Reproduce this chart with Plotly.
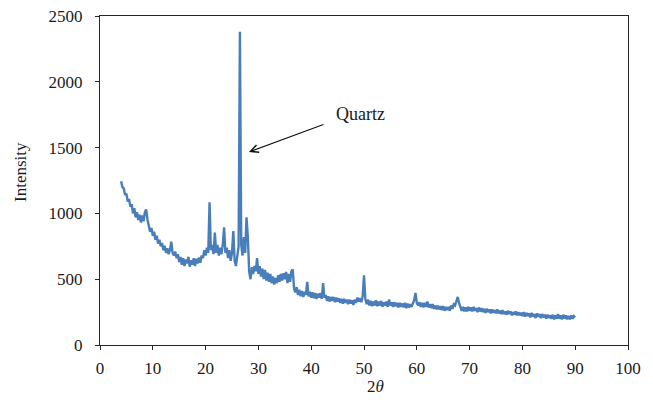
import plotly.graph_objects as go

# Scan grid: 2θ from 4° to 90° in 0.25° steps
theta_start = 4.0
theta_step = 0.25

intensity = [
    # 4.0 - 9.0
    1245, 1200, 1190, 1140, 1150, 1090, 1110, 1050, 1070, 1000, 1040, 970, 1010, 950, 990, 930, 985, 940, 1010, 1030, 950,
    # 9.25 - 14.0
    900, 860, 890, 830, 860, 800, 830, 770, 800, 750, 775, 720, 755, 700, 735, 690, 720, 785, 700, 680,
    # 14.25 - 19.0
    710, 660, 690, 630, 670, 610, 660, 600, 650, 620, 670, 595, 645, 610, 660, 600, 655, 620, 665, 625,
    # 19.25 - 24.0
    680, 660, 720, 680, 740, 700, 1085, 720, 760, 690, 855, 700, 760, 680, 740, 690, 760, 895, 700, 740,
    # 24.25 - 29.0
    660, 720, 640, 700, 865, 640, 600, 700, 750, 2380, 760, 680, 820, 700, 970, 820, 560, 500, 590, 540,
    # 29.25 - 34.0
    600, 560, 660, 540, 600, 520, 580, 500, 570, 490, 550, 480, 540, 470, 520, 460, 510, 470, 530, 480,
    # 34.25 - 39.0
    540, 490, 545, 500, 555, 470, 540, 480, 560, 575, 430, 400, 440, 380, 420, 370, 410, 365, 405, 380,
    # 39.25 - 44.0
    480, 370, 405, 360, 400, 355, 395, 350, 390, 360, 395, 350, 470, 360, 380, 335, 370, 330, 365, 335,
    # 44.25 - 49.0
    365, 325, 360, 330, 355, 320, 350, 315, 350, 320, 345, 310, 345, 315, 340, 305, 345, 320, 360, 330,
    # 49.25 - 54.0
    355, 325, 370, 530, 350, 310, 345, 300, 335, 295, 330, 300, 340, 295, 330, 300, 335, 290, 325, 300,
    # 54.25 - 59.0
    330, 290, 345, 300, 325, 290, 325, 295, 320, 285, 320, 290, 315, 285, 320, 280, 315, 285, 310, 290,
    # 59.25 - 64.0
    315, 340, 395, 320, 300, 325, 290, 320, 285, 320, 290, 330, 285, 310, 280, 310, 275, 300, 270, 300,
    # 64.25 - 69.0
    270, 295, 265, 295, 260, 290, 265, 290, 260, 300, 275, 310, 300, 345, 365, 320, 290, 260, 290, 255,
    # 69.25 - 74.0
    285, 255, 290, 260, 285, 255, 290, 260, 280, 250, 285, 255, 280, 250, 275, 245, 275, 250, 270, 240,
    # 74.25 - 79.0
    270, 245, 265, 240, 270, 240, 260, 235, 265, 235, 255, 230, 260, 235, 255, 225, 250, 230, 255, 225,
    # 79.25 - 84.0
    250, 225, 245, 220, 250, 215, 245, 220, 240, 210, 245, 215, 235, 205, 240, 215, 235, 205, 235, 210,
    # 84.25 - 89.0
    230, 200, 230, 205, 225, 200, 230, 195, 225, 200, 235, 200, 225, 195, 230, 200, 225, 195, 220, 195,
    # 89.25 - 90.0
    225, 200, 220, 210,
]
two_theta = [theta_start + theta_step * i for i in range(len(intensity))]

x_ticks = [0, 10, 20, 30, 40, 50, 60, 70, 80, 90, 100]
y_ticks = [0, 500, 1000, 1500, 2000, 2500]

quartz_label = "Quartz"
quartz_pos = (28.2, 1467)

FONT = "Liberation Serif"
AXIS_COLOR = "#262626"
TEXT_COLOR = "#1a1a1a"

# Plot area in window pixels
PLOT_L, PLOT_R, PLOT_T, PLOT_B = 100, 628, 16, 345
PW, PH = PLOT_R - PLOT_L, PLOT_B - PLOT_T


def px_to_paper(px, py):
    return (px - PLOT_L) / PW, (PLOT_B - py) / PH


fig = go.Figure()
fig.add_trace(go.Scatter(
    x=two_theta, y=intensity, mode="lines",
    line=dict(color="#4A7EBB", width=2.4),
    showlegend=False, hoverinfo="skip",
))

fig.update_layout(
    width=653, height=412,
    margin=dict(l=PLOT_L, r=653 - PLOT_R, t=PLOT_T, b=412 - PLOT_B),
    paper_bgcolor="white", plot_bgcolor="white",
    font=dict(family=FONT, size=17, color=TEXT_COLOR),
    showlegend=False,
)
fig.update_xaxes(
    range=[0, 100], tickvals=x_ticks, ticktext=[str(v) for v in x_ticks],
    showgrid=False, zeroline=False, automargin=False,
    showline=True, linecolor=AXIS_COLOR, linewidth=1, mirror=True,
    ticks="outside", ticklen=4, tickcolor=AXIS_COLOR, tickwidth=1,
    ticklabelstandoff=4,
)
fig.update_yaxes(
    range=[0, 2500], tickvals=y_ticks, ticktext=[str(v) for v in y_ticks],
    showgrid=False, zeroline=False, automargin=False,
    showline=True, linecolor=AXIS_COLOR, linewidth=1, mirror=True,
    ticks="outside", ticklen=4, tickcolor=AXIS_COLOR, tickwidth=1,
    ticklabelstandoff=9,
)

# Arrow pointing to the quartz peak
fig.add_annotation(
    x=quartz_pos[0], y=quartz_pos[1], xref="x", yref="y",
    text="", showarrow=True, ax=76, ay=-28,
    arrowhead=5, arrowsize=1.4, arrowwidth=1.1, arrowcolor="#111111",
)
# Label text
qx, qy = px_to_paper(360, 114)
fig.add_annotation(
    x=qx, y=qy, xref="paper", yref="paper", text=quartz_label,
    xanchor="center", yanchor="middle",
    showarrow=False, font=dict(size=18, family=FONT, color=TEXT_COLOR),
)

# Axis titles as annotations for precise placement
tx, ty = px_to_paper(375, 386)
fig.add_annotation(
    x=tx, y=ty, xref="paper", yref="paper",
    xanchor="center", yanchor="middle",
    text="2<i>θ</i>", showarrow=False, font=dict(size=17, family=FONT, color=TEXT_COLOR),
)
ix, iy = px_to_paper(21, 172)
fig.add_annotation(
    x=ix, y=iy, xref="paper", yref="paper",
    xanchor="center", yanchor="middle",
    text="Intensity", showarrow=False, textangle=-90,
    font=dict(size=17, family=FONT, color=TEXT_COLOR),
)

# Remove the default page margin so the figure sits at the window's top-left corner
fig.write_html(
    "out.html",
    config={"displayModeBar": False},
    post_script="document.body.style.margin='0';",
)
